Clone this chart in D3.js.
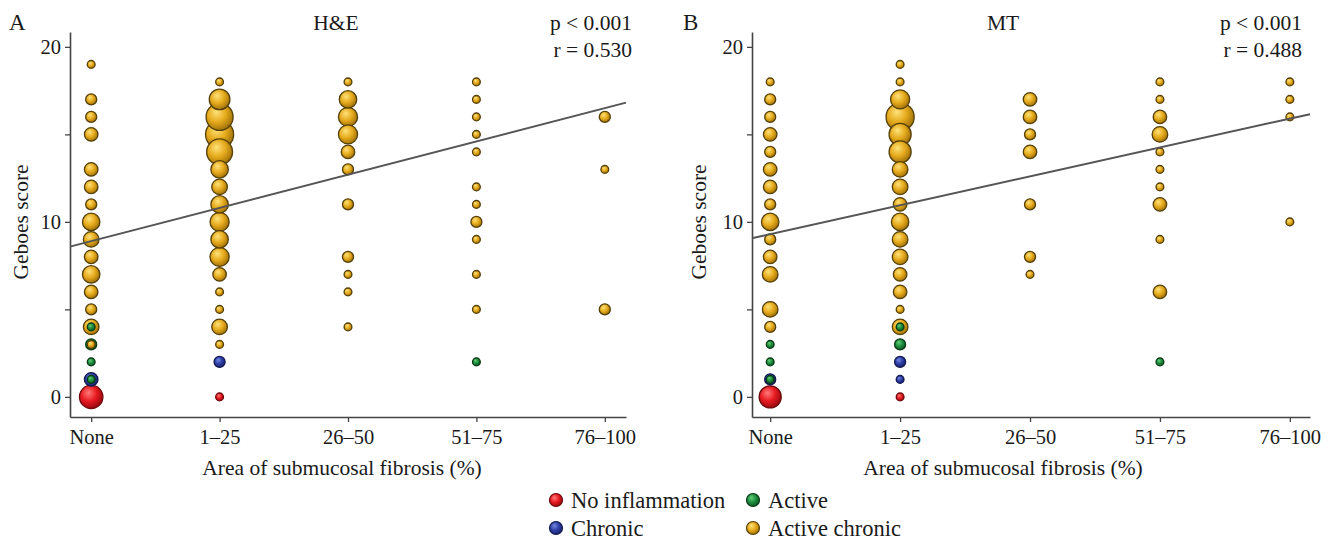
<!DOCTYPE html>
<html>
<head>
<meta charset="utf-8">
<script src="https://cdn.jsdelivr.net/npm/d3@7"></script>
<style>
  html, body { margin: 0; padding: 0; background: #fff; }
  svg { display: block; }
  text { font-family: "Liberation Serif", "Times New Roman", serif; fill: #1a1a1a; }
</style>
</head>
<body>
<svg id="chart" width="1336" height="543"></svg>
<script>
// Fibrosis area categories (x axis) and y tick labels
const categories = ["None", "1–25", "26–50", "51–75", "76–100"];
const yTickValues = [0, 5, 10, 15, 20];
const yTickLabels = { 0: "0", 10: "10", 20: "20" };

// Inflammation status legend: code, label
const statusCodes = ["ni", "a", "c", "ac"];
const statusLabels = { ni: "No inflammation", a: "Active", c: "Chronic", ac: "Active chronic" };

// H&E: per fibrosis category, [Geboes score, number of patients, status]
const heNone = [[19,1,"ac"],[17,2,"ac"],[16,2,"ac"],[15,3,"ac"],[13,3,"ac"],[12,3,"ac"],[11,2,"ac"],[10,5,"ac"],[9,4,"ac"],[8,3,"ac"],[7,5,"ac"],[6,3,"ac"],[5,2,"ac"],[4,4,"ac"],[4,1,"a"],[3,2,"a"],[3,1,"ac"],[2,1,"a"],[1,3,"c"],[1,1,"a"],[0,9,"ni"]];
const he1to25 = [[18,1,"ac"],[17,7,"ac"],[16,12,"ac"],[15,13,"ac"],[14,11,"ac"],[13,5,"ac"],[12,4,"ac"],[11,5,"ac"],[10,6,"ac"],[9,5,"ac"],[8,6,"ac"],[7,3,"ac"],[6,1,"ac"],[5,1,"ac"],[4,4,"ac"],[3,1,"ac"],[2,2,"c"],[0,1,"ni"]];
const he26to50 = [[18,1,"ac"],[17,5,"ac"],[16,6,"ac"],[15,6,"ac"],[14,3,"ac"],[13,2,"ac"],[11,2,"ac"],[8,2,"ac"],[7,1,"ac"],[6,1,"ac"],[4,1,"ac"]];
const he51to75 = [[18,1,"ac"],[17,1,"ac"],[16,1,"ac"],[15,1,"ac"],[14,1,"ac"],[12,1,"ac"],[11,1,"ac"],[10,2,"ac"],[9,1,"ac"],[7,1,"ac"],[5,1,"ac"],[2,1,"a"]];
const he76to100 = [[16,2,"ac"],[13,1,"ac"],[5,2,"ac"]];

// MT: per fibrosis category, [Geboes score, number of patients, status]
const mtNone = [[18,1,"ac"],[17,2,"ac"],[16,2,"ac"],[15,3,"ac"],[14,2,"ac"],[13,3,"ac"],[12,3,"ac"],[11,2,"ac"],[10,5,"ac"],[9,2,"ac"],[8,3,"ac"],[7,4,"ac"],[5,4,"ac"],[4,2,"ac"],[3,1,"a"],[2,1,"a"],[1,2,"c"],[1,1,"a"],[0,8,"ni"]];
const mt1to25 = [[19,1,"ac"],[18,1,"ac"],[17,6,"ac"],[16,13,"ac"],[15,8,"ac"],[14,8,"ac"],[13,4,"ac"],[12,4,"ac"],[11,3,"ac"],[10,5,"ac"],[9,4,"ac"],[8,4,"ac"],[7,3,"ac"],[6,3,"ac"],[5,1,"ac"],[4,4,"ac"],[4,1,"a"],[3,2,"a"],[2,2,"c"],[1,1,"c"],[0,1,"ni"]];
const mt26to50 = [[17,3,"ac"],[16,3,"ac"],[15,2,"ac"],[14,3,"ac"],[11,2,"ac"],[8,2,"ac"],[7,1,"ac"]];
const mt51to75 = [[18,1,"ac"],[17,1,"ac"],[16,3,"ac"],[15,4,"ac"],[14,1,"ac"],[13,1,"ac"],[12,1,"ac"],[11,3,"ac"],[9,1,"ac"],[6,3,"ac"],[2,1,"a"]];
const mt76to100 = [[18,1,"ac"],[17,1,"ac"],[16,1,"ac"],[10,1,"ac"]];

// Linear fits: [intercept at "None", slope per category]
const heFit = [8.9, 1.9];
const mtFit = [9.3, 1.65];

// Statistics shown in each panel
const heStats = ["p < 0.001", "r = 0.530"];
const mtStats = ["p < 0.001", "r = 0.488"];

const svg = d3.select("#chart");
const defs = svg.append("defs");

// Shaded ball look for each status
const palette = {
  ni: { hi: "#ff7a78", mid: "#e81a22", lo: "#9c0a10", stroke: "#6e0a0c" },
  c:  { hi: "#7486e0", mid: "#2d3ea6", lo: "#19246e", stroke: "#121a50" },
  a:  { hi: "#5fcf78", mid: "#1e8e3e", lo: "#0d5a22", stroke: "#0b3a16" },
  ac: { hi: "#fde27a", mid: "#e6aa1c", lo: "#a3740a", stroke: "#54400a" }
};
statusCodes.forEach(k => {
  const g = defs.append("radialGradient").attr("id", "ball-" + k)
    .attr("cx", "40%").attr("cy", "38%").attr("r", "62%").attr("fx", "38%").attr("fy", "32%");
  g.append("stop").attr("offset", "0%").attr("stop-color", palette[k].hi);
  g.append("stop").attr("offset", "55%").attr("stop-color", palette[k].mid);
  g.append("stop").attr("offset", "100%").attr("stop-color", palette[k].lo);
});

const radius = d3.scaleSqrt().domain([0, 1]).range([0, 3.9]);

function drawPanel(cfg) {
  const x = d3.scaleLinear().domain(cfg.xDomain).range(cfg.xRange);
  const y = d3.scaleLinear().domain([-1.15, 20.85]).range([417, 32]);
  const g = svg.append("g");

  // axes
  const yAxis = d3.axisLeft(y).tickValues(yTickValues)
    .tickFormat(v => yTickLabels[v] || "").tickSize(5).tickSizeOuter(0).tickPadding(4);
  const ya = g.append("g").attr("transform", `translate(${cfg.xRange[0]},0)`).call(yAxis);
  const xAxis = d3.axisBottom(x).tickValues(d3.range(categories.length))
    .tickFormat(i => categories[i]).tickSize(5).tickSizeOuter(0).tickPadding(7);
  const xa = g.append("g").attr("transform", `translate(0,${y.range()[0]})`).call(xAxis);
  [ya, xa].forEach(a => {
    a.select(".domain").attr("stroke", "#444").attr("stroke-width", 1.6);
    a.selectAll(".tick line").attr("stroke", "#444").attr("stroke-width", 1.3);
    a.selectAll(".tick text").attr("font-size", 20.5).attr("fill", "#1a1a1a")
      .style("font-family", '"Liberation Serif", serif');
  });

  // dots, larger counts underneath
  const dots = [];
  cfg.columns.forEach((col, i) => col.forEach(([s, n, st]) => dots.push({ i, s, n, st })));
  dots.sort((p, q) => q.n - p.n);
  g.append("g").selectAll("circle").data(dots).join("circle")
    .attr("cx", d => x(d.i))
    .attr("cy", d => y(d.s))
    .attr("r", d => radius(d.n))
    .attr("fill", d => `url(#ball-${d.st})`)
    .attr("stroke", d => palette[d.st].stroke)
    .attr("stroke-width", 1.3);

  // fitted line across the axis span
  const [b0, b1] = cfg.fit;
  const xs = x.domain();
  g.append("line")
    .attr("x1", x(xs[0])).attr("y1", y(b0 + b1 * xs[0]))
    .attr("x2", x(xs[1])).attr("y2", y(b0 + b1 * xs[1]))
    .attr("stroke", "#555").attr("stroke-width", 2);

  // texts
  g.append("text").attr("x", cfg.letterX).attr("y", 30).attr("font-size", 23).text(cfg.letter);
  g.append("text").attr("x", cfg.titleX).attr("y", 30).attr("font-size", 21.5)
    .attr("text-anchor", "middle").text(cfg.title);
  cfg.stats.forEach((t, k) => g.append("text").attr("x", cfg.statsX).attr("y", 30 + k * 27)
    .attr("font-size", 21.5).attr("text-anchor", "end").text(t));
  g.append("text").attr("transform", `translate(${cfg.yTitleX},222) rotate(-90)`)
    .attr("font-size", 21.5).attr("text-anchor", "middle").text("Geboes score");
  g.append("text").attr("x", cfg.xTitleX).attr("y", 475).attr("font-size", 21.5)
    .attr("text-anchor", "middle").text("Area of submucosal fibrosis (%)");
}

drawPanel({
  columns: [heNone, he1to25, he26to50, he51to75, he76to100],
  fit: heFit, stats: heStats, letter: "A", title: "H&E",
  xDomain: [-0.165, 4.165], xRange: [70, 626],
  letterX: 9, titleX: 336, statsX: 632, yTitleX: 28, xTitleX: 342
});
drawPanel({
  columns: [mtNone, mt1to25, mt26to50, mt51to75, mt76to100],
  fit: mtFit, stats: mtStats, letter: "B", title: "MT",
  xDomain: [-0.14, 4.155], xRange: [752, 1310],
  letterX: 683, titleX: 1003, statsX: 1302, yTitleX: 706, xTitleX: 1003
});

// legend
const legendItems = [
  { k: "ni", cx: 556, cy: 500 }, { k: "a", cx: 753, cy: 500 },
  { k: "c", cx: 556, cy: 528 }, { k: "ac", cx: 753, cy: 528 }
];
const lg = svg.append("g");
legendItems.forEach(d => {
  lg.append("circle").attr("cx", d.cx).attr("cy", d.cy).attr("r", 6.5)
    .attr("fill", `url(#ball-${d.k})`).attr("stroke", palette[d.k].stroke).attr("stroke-width", 1.2);
  lg.append("text").attr("x", d.cx + 15).attr("y", d.cy).attr("dy", "0.35em")
    .attr("font-size", 22.5).text(statusLabels[d.k]);
});
</script>
</body>
</html>
